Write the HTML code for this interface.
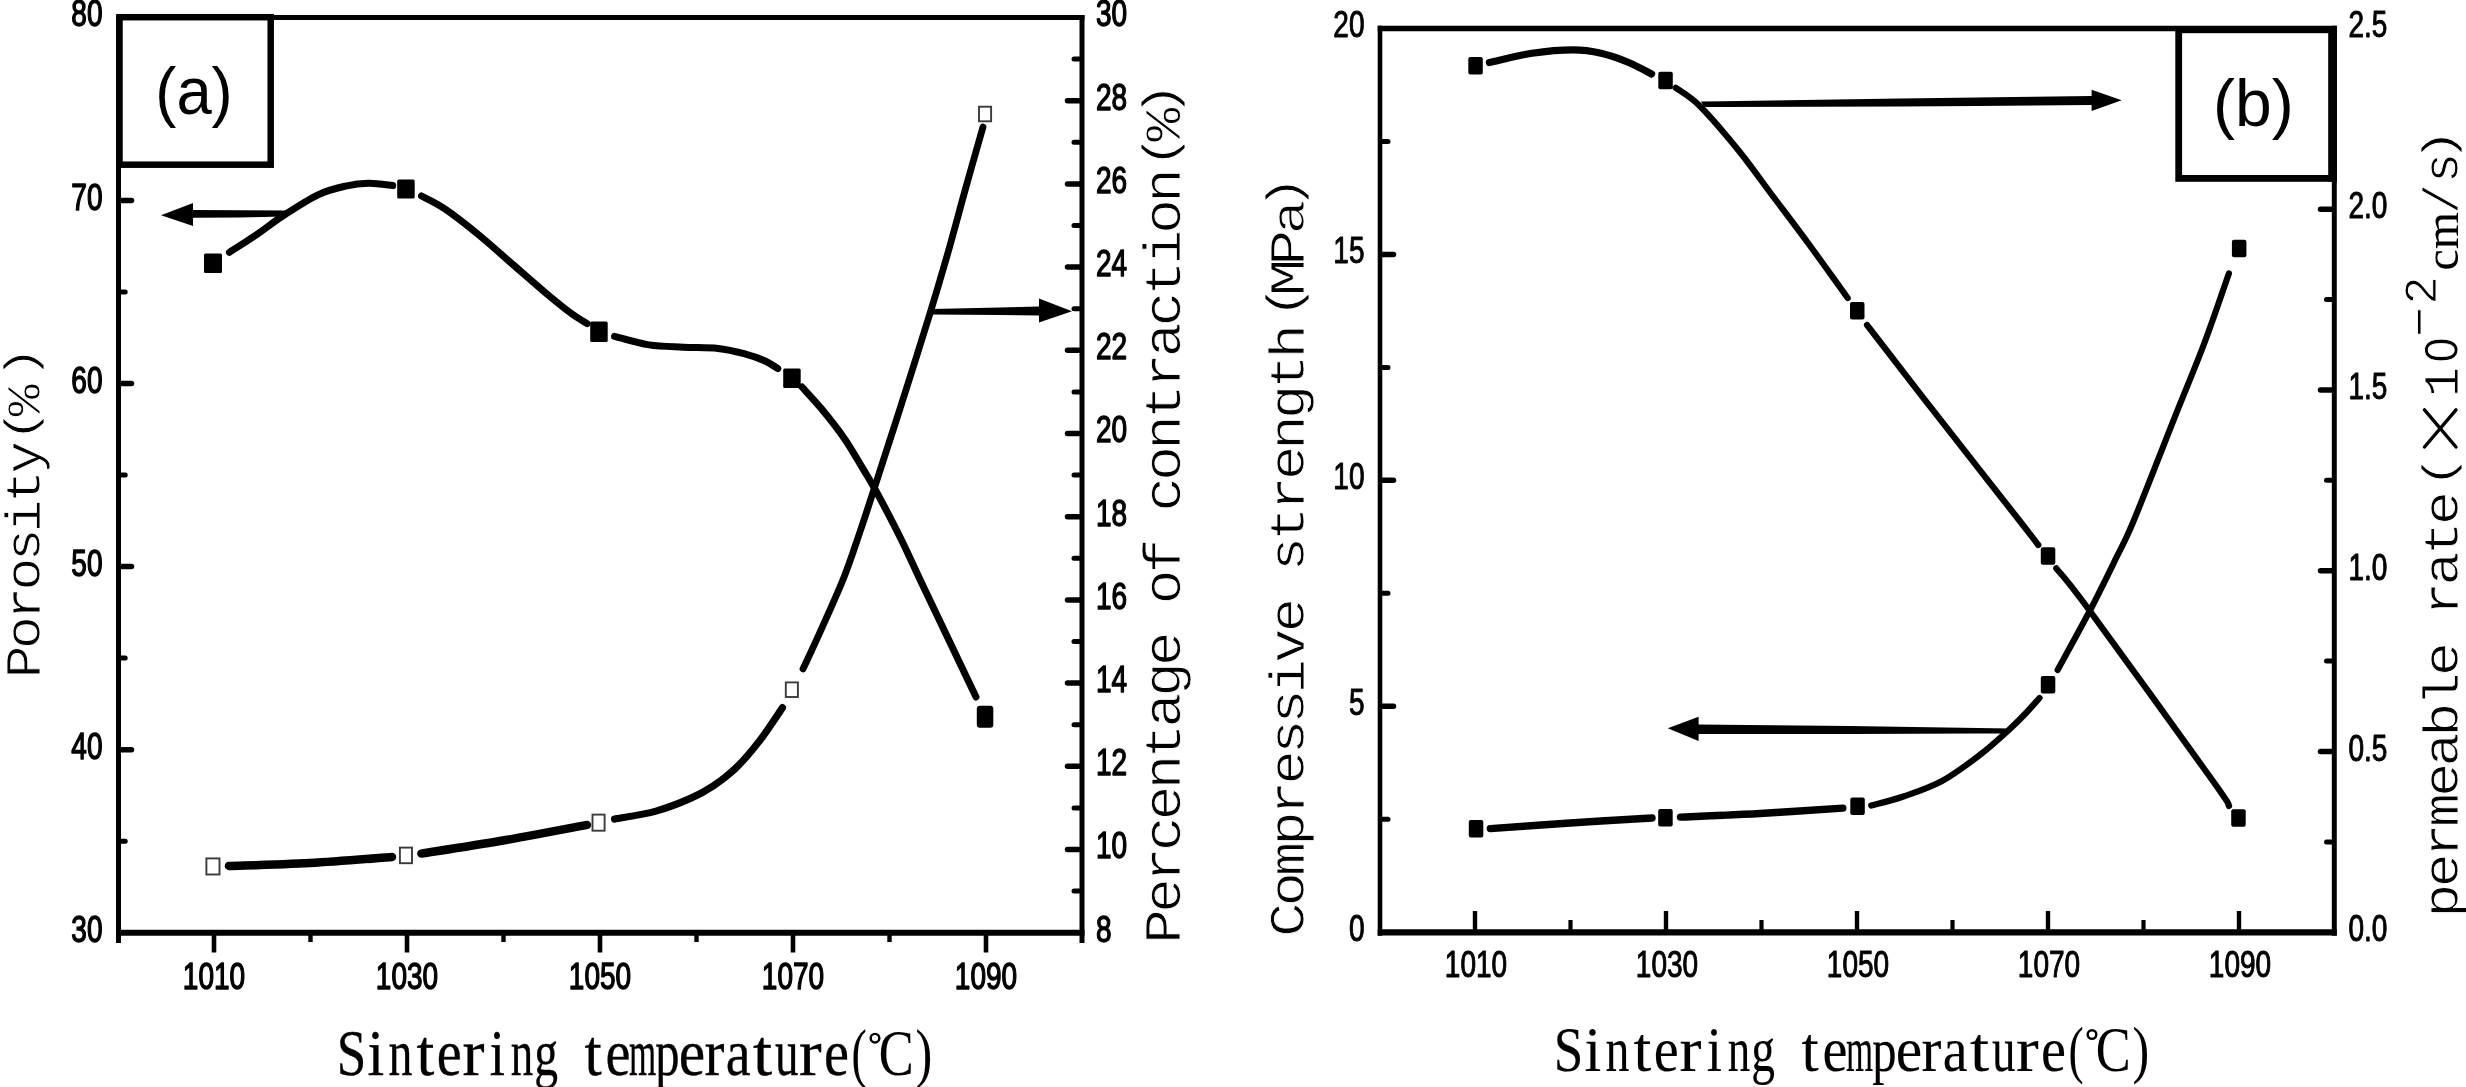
<!DOCTYPE html>
<html><head><meta charset="utf-8"><title>Sintering temperature charts</title>
<style>html,body{margin:0;padding:0;background:#fff;}svg{display:block;}
.tk{font-family:"Liberation Sans",sans-serif;font-size:37.6px;fill:#000;stroke:#000;stroke-linejoin:round;}
.mono{font-family:"Liberation Mono",monospace;fill:#000;stroke:#fff;stroke-width:0.9px;}
.ser{font-family:"Liberation Serif",serif;fill:#000;}
.lab{font-family:"Liberation Sans",sans-serif;font-size:66px;fill:#000;}
</style></head><body>
<svg width="2466" height="1087" viewBox="0 0 2466 1087">
<rect x="0" y="0" width="2466" height="1087" fill="#fff"/>
<defs><filter id="soft" x="0" y="0" width="2466" height="1087" filterUnits="userSpaceOnUse"><feGaussianBlur stdDeviation="0.6"/></filter></defs>
<g filter="url(#soft)">
<!-- panel a frame -->
<line x1="118.5" y1="15.0" x2="118.5" y2="943.0" stroke="#000" stroke-width="5.0" stroke-linecap="butt"/>
<line x1="1082.0" y1="15.0" x2="1082.0" y2="943.0" stroke="#000" stroke-width="5.0" stroke-linecap="butt"/>
<line x1="116.0" y1="17.5" x2="1084.5" y2="17.5" stroke="#000" stroke-width="5.0" stroke-linecap="butt"/>
<line x1="116.0" y1="932.7" x2="1084.5" y2="932.7" stroke="#000" stroke-width="6.0" stroke-linecap="butt"/>
<line x1="120.5" y1="109.0" x2="125.2" y2="109.0" stroke="#000" stroke-width="5.0" stroke-linecap="round"/>
<line x1="120.5" y1="200.5" x2="131.5" y2="200.5" stroke="#000" stroke-width="5.5" stroke-linecap="round"/>
<line x1="120.5" y1="292.1" x2="125.2" y2="292.1" stroke="#000" stroke-width="5.0" stroke-linecap="round"/>
<line x1="120.5" y1="383.6" x2="131.5" y2="383.6" stroke="#000" stroke-width="5.5" stroke-linecap="round"/>
<line x1="120.5" y1="475.1" x2="125.2" y2="475.1" stroke="#000" stroke-width="5.0" stroke-linecap="round"/>
<line x1="120.5" y1="566.6" x2="131.5" y2="566.6" stroke="#000" stroke-width="5.5" stroke-linecap="round"/>
<line x1="120.5" y1="658.1" x2="125.2" y2="658.1" stroke="#000" stroke-width="5.0" stroke-linecap="round"/>
<line x1="120.5" y1="749.7" x2="131.5" y2="749.7" stroke="#000" stroke-width="5.5" stroke-linecap="round"/>
<line x1="120.5" y1="841.2" x2="125.2" y2="841.2" stroke="#000" stroke-width="5.0" stroke-linecap="round"/>
<line x1="1080.0" y1="59.1" x2="1074.0" y2="59.1" stroke="#000" stroke-width="5.0" stroke-linecap="round"/>
<line x1="1080.0" y1="100.7" x2="1067.5" y2="100.7" stroke="#000" stroke-width="5.5" stroke-linecap="round"/>
<line x1="1080.0" y1="142.3" x2="1074.0" y2="142.3" stroke="#000" stroke-width="5.0" stroke-linecap="round"/>
<line x1="1080.0" y1="183.9" x2="1067.5" y2="183.9" stroke="#000" stroke-width="5.5" stroke-linecap="round"/>
<line x1="1080.0" y1="225.5" x2="1074.0" y2="225.5" stroke="#000" stroke-width="5.0" stroke-linecap="round"/>
<line x1="1080.0" y1="267.1" x2="1067.5" y2="267.1" stroke="#000" stroke-width="5.5" stroke-linecap="round"/>
<line x1="1080.0" y1="308.7" x2="1074.0" y2="308.7" stroke="#000" stroke-width="5.0" stroke-linecap="round"/>
<line x1="1080.0" y1="350.3" x2="1067.5" y2="350.3" stroke="#000" stroke-width="5.5" stroke-linecap="round"/>
<line x1="1080.0" y1="391.9" x2="1074.0" y2="391.9" stroke="#000" stroke-width="5.0" stroke-linecap="round"/>
<line x1="1080.0" y1="433.5" x2="1067.5" y2="433.5" stroke="#000" stroke-width="5.5" stroke-linecap="round"/>
<line x1="1080.0" y1="475.1" x2="1074.0" y2="475.1" stroke="#000" stroke-width="5.0" stroke-linecap="round"/>
<line x1="1080.0" y1="516.7" x2="1067.5" y2="516.7" stroke="#000" stroke-width="5.5" stroke-linecap="round"/>
<line x1="1080.0" y1="558.3" x2="1074.0" y2="558.3" stroke="#000" stroke-width="5.0" stroke-linecap="round"/>
<line x1="1080.0" y1="599.9" x2="1067.5" y2="599.9" stroke="#000" stroke-width="5.5" stroke-linecap="round"/>
<line x1="1080.0" y1="641.5" x2="1074.0" y2="641.5" stroke="#000" stroke-width="5.0" stroke-linecap="round"/>
<line x1="1080.0" y1="683.1" x2="1067.5" y2="683.1" stroke="#000" stroke-width="5.5" stroke-linecap="round"/>
<line x1="1080.0" y1="724.7" x2="1074.0" y2="724.7" stroke="#000" stroke-width="5.0" stroke-linecap="round"/>
<line x1="1080.0" y1="766.3" x2="1067.5" y2="766.3" stroke="#000" stroke-width="5.5" stroke-linecap="round"/>
<line x1="1080.0" y1="807.9" x2="1074.0" y2="807.9" stroke="#000" stroke-width="5.0" stroke-linecap="round"/>
<line x1="1080.0" y1="849.5" x2="1067.5" y2="849.5" stroke="#000" stroke-width="5.5" stroke-linecap="round"/>
<line x1="1080.0" y1="891.1" x2="1074.0" y2="891.1" stroke="#000" stroke-width="5.0" stroke-linecap="round"/>
<line x1="214.0" y1="932.7" x2="214.0" y2="952.5" stroke="#000" stroke-width="4.6" stroke-linecap="butt"/>
<line x1="310.5" y1="932.7" x2="310.5" y2="942.0" stroke="#000" stroke-width="4.4" stroke-linecap="butt"/>
<line x1="407.0" y1="932.7" x2="407.0" y2="952.5" stroke="#000" stroke-width="4.6" stroke-linecap="butt"/>
<line x1="503.5" y1="932.7" x2="503.5" y2="942.0" stroke="#000" stroke-width="4.4" stroke-linecap="butt"/>
<line x1="600.0" y1="932.7" x2="600.0" y2="952.5" stroke="#000" stroke-width="4.6" stroke-linecap="butt"/>
<line x1="696.5" y1="932.7" x2="696.5" y2="942.0" stroke="#000" stroke-width="4.4" stroke-linecap="butt"/>
<line x1="793.0" y1="932.7" x2="793.0" y2="952.5" stroke="#000" stroke-width="4.6" stroke-linecap="butt"/>
<line x1="889.5" y1="932.7" x2="889.5" y2="942.0" stroke="#000" stroke-width="4.4" stroke-linecap="butt"/>
<line x1="986.0" y1="932.7" x2="986.0" y2="952.5" stroke="#000" stroke-width="4.6" stroke-linecap="butt"/>
<text transform="translate(102.5,26.4) scale(0.745,1)" text-anchor="end" class="tk" stroke-width="1.4">80</text>
<text transform="translate(102.5,209.5) scale(0.745,1)" text-anchor="end" class="tk" stroke-width="1.4">70</text>
<text transform="translate(102.5,392.5) scale(0.745,1)" text-anchor="end" class="tk" stroke-width="1.4">60</text>
<text transform="translate(102.5,575.6) scale(0.745,1)" text-anchor="end" class="tk" stroke-width="1.4">50</text>
<text transform="translate(102.5,758.6) scale(0.745,1)" text-anchor="end" class="tk" stroke-width="1.4">40</text>
<text transform="translate(102.5,941.6) scale(0.745,1)" text-anchor="end" class="tk" stroke-width="1.4">30</text>
<text transform="translate(1096.0,26.4) scale(0.745,1)" text-anchor="start" class="tk" stroke-width="1.4">30</text>
<text transform="translate(1096.0,109.6) scale(0.745,1)" text-anchor="start" class="tk" stroke-width="1.4">28</text>
<text transform="translate(1096.0,192.8) scale(0.745,1)" text-anchor="start" class="tk" stroke-width="1.4">26</text>
<text transform="translate(1096.0,276.0) scale(0.745,1)" text-anchor="start" class="tk" stroke-width="1.4">24</text>
<text transform="translate(1096.0,359.2) scale(0.745,1)" text-anchor="start" class="tk" stroke-width="1.4">22</text>
<text transform="translate(1096.0,442.4) scale(0.745,1)" text-anchor="start" class="tk" stroke-width="1.4">20</text>
<text transform="translate(1096.0,525.6) scale(0.745,1)" text-anchor="start" class="tk" stroke-width="1.4">18</text>
<text transform="translate(1096.0,608.8) scale(0.745,1)" text-anchor="start" class="tk" stroke-width="1.4">16</text>
<text transform="translate(1096.0,692.0) scale(0.745,1)" text-anchor="start" class="tk" stroke-width="1.4">14</text>
<text transform="translate(1096.0,775.2) scale(0.745,1)" text-anchor="start" class="tk" stroke-width="1.4">12</text>
<text transform="translate(1096.0,858.4) scale(0.745,1)" text-anchor="start" class="tk" stroke-width="1.4">10</text>
<text transform="translate(1096.0,941.6) scale(0.745,1)" text-anchor="start" class="tk" stroke-width="1.4">8</text>
<text transform="translate(214.0,988.9) scale(0.745,1)" text-anchor="middle" class="tk" stroke-width="1.4">1010</text>
<text transform="translate(407.0,988.9) scale(0.745,1)" text-anchor="middle" class="tk" stroke-width="1.4">1030</text>
<text transform="translate(600.0,988.9) scale(0.745,1)" text-anchor="middle" class="tk" stroke-width="1.4">1050</text>
<text transform="translate(793.0,988.9) scale(0.745,1)" text-anchor="middle" class="tk" stroke-width="1.4">1070</text>
<text transform="translate(986.0,988.9) scale(0.745,1)" text-anchor="middle" class="tk" stroke-width="1.4">1090</text>
<rect x="119.5" y="17.2" width="151.2" height="147.5" fill="#fff" stroke="#000" stroke-width="6.5"/>
<text transform="translate(194,113.5) scale(0.96,1)" text-anchor="middle" class="lab">(a)</text>
<path d="M229.4,252.3 C233.8,249.4 246.9,241.2 255.9,235.1 C264.9,229.0 273.1,222.2 283.5,215.5 C293.9,208.8 307.6,199.7 318.0,194.8 C328.4,189.9 337.2,188.0 345.6,186.1 C354.0,184.2 360.8,183.4 368.6,183.3 C376.5,183.2 388.7,185.2 392.7,185.6" fill="none" stroke="#000" stroke-width="7.0" stroke-linecap="round" stroke-linejoin="round"/>
<path d="M421.5,196.0 C425.3,198.1 434.9,202.2 444.5,208.7 C454.1,215.2 467.5,225.7 479.0,235.1 C490.5,244.5 502.0,255.0 513.5,265.0 C525.0,275.0 538.4,286.8 548.0,294.9 C557.6,302.9 564.5,308.5 571.0,313.3 C577.5,318.1 584.4,321.9 587.1,323.6" fill="none" stroke="#000" stroke-width="7.0" stroke-linecap="round" stroke-linejoin="round"/>
<path d="M614.5,336.3 C620.2,337.7 637.5,343.1 649.0,344.9 C660.5,346.7 672.0,346.6 683.5,347.2 C695.0,347.8 707.6,347.4 718.0,348.5 C728.4,349.6 737.9,352.1 745.6,354.1 C753.3,356.1 758.6,358.1 764.0,360.5 C769.4,362.9 775.5,367.2 777.8,368.5" fill="none" stroke="#000" stroke-width="7.0" stroke-linecap="round" stroke-linejoin="round"/>
<path d="M802.0,387.0 C805.2,390.6 814.4,400.2 821.5,408.8 C828.6,417.4 837.6,428.7 844.5,438.7 C851.4,448.7 857.6,459.9 862.9,468.6 C868.1,477.3 869.8,479.6 876.0,491.0 C882.2,502.4 891.8,520.5 900.0,537.0 C908.2,553.5 912.3,563.3 925.0,590.0 C937.7,616.7 967.5,679.2 976.0,697.0" fill="none" stroke="#000" stroke-width="7.0" stroke-linecap="round" stroke-linejoin="round"/>
<rect x="204.0" y="253.6" width="18.0" height="19.5" rx="1.5" fill="#000"/>
<rect x="397.2" y="179.5" width="17.5" height="19.0" rx="1.5" fill="#000"/>
<rect x="590.2" y="321.4" width="17.5" height="20.5" rx="1.5" fill="#000"/>
<rect x="783.2" y="368.6" width="17.5" height="19.5" rx="1.5" fill="#000"/>
<rect x="976.8" y="705.8" width="16.5" height="22.0" rx="3.0" fill="#000"/>
<path d="M229.0,866.0 C242.5,865.5 282.8,864.5 310.0,863.0 C337.2,861.5 378.3,858.0 392.0,857.0" fill="none" stroke="#000" stroke-width="8.5" stroke-linecap="round" stroke-linejoin="round"/>
<path d="M421.4,853.6 C434.5,851.5 472.4,845.8 500.0,841.0 C527.6,836.2 572.5,827.6 587.0,824.9" fill="none" stroke="#000" stroke-width="8.5" stroke-linecap="round" stroke-linejoin="round"/>
<path d="M614.6,819.1 C621.5,817.8 643.4,814.6 656.0,811.1 C668.6,807.6 680.9,802.6 690.5,798.4 C700.1,794.2 705.8,791.0 713.5,785.8 C721.2,780.6 728.8,774.9 736.5,767.4 C744.2,759.9 751.8,750.9 759.5,740.9 C767.2,730.9 778.7,713.1 782.5,707.6" fill="none" stroke="#000" stroke-width="7.2" stroke-linecap="round" stroke-linejoin="round"/>
<path d="M803.0,669.0 C806.1,662.3 814.6,644.3 821.5,628.8 C828.4,613.3 838.0,592.4 844.5,575.9 C851.0,559.4 855.6,544.6 860.6,530.0 C865.6,515.4 867.6,509.0 874.4,488.0 C881.2,467.0 892.3,432.8 901.5,404.0 C910.7,375.2 921.9,339.7 929.5,315.0 C937.1,290.3 940.9,277.3 947.0,256.0 C953.1,234.7 960.0,208.5 966.0,187.0 C972.0,165.5 980.2,137.0 983.0,127.0" fill="none" stroke="#000" stroke-width="6.8" stroke-linecap="round" stroke-linejoin="round"/>
<rect x="206.4" y="858.4" width="13.1" height="16.1" fill="#fff" stroke="#3a3a3a" stroke-width="1.9"/>
<rect x="399.9" y="847.6" width="12.1" height="15.6" fill="#fff" stroke="#3a3a3a" stroke-width="1.9"/>
<rect x="592.5" y="814.6" width="12.1" height="16.1" fill="#fff" stroke="#3a3a3a" stroke-width="1.9"/>
<rect x="785.8" y="682.4" width="12.1" height="14.6" fill="#fff" stroke="#3a3a3a" stroke-width="1.9"/>
<rect x="979.0" y="106.7" width="12.1" height="14.6" fill="#fff" stroke="#3a3a3a" stroke-width="1.9"/>
<polygon points="161.0,215.3 193.0,203.0 193.0,210.0 240.0,210.3 292.0,210.5 284.0,216.5 240.0,217.5 193.0,217.8 193.0,226.0" fill="#000"/>
<polygon points="1072.0,311.3 1039.0,298.5 1039.0,306.5 1000.0,307.5 931.0,309.0 929.0,314.5 1000.0,315.0 1039.0,315.5 1039.0,322.5" fill="#000"/>
<text transform="translate(40.3,678.2) rotate(-90) scale(1,0.911)" class="mono" font-size="54.54" letter-spacing="-3.51">Porosity</text>
<text transform="translate(35.3,425.5) rotate(-90) scale(1.150,0.900)" text-anchor="middle" class="mono" font-size="48.70">(</text>
<text transform="translate(40.3,400.5) rotate(-90) scale(1.120,1.000)" text-anchor="middle" class="mono" font-size="48.70">%</text>
<text transform="translate(35.3,362.6) rotate(-90) scale(1.150,0.900)" text-anchor="middle" class="mono" font-size="48.70">)</text>
<text transform="translate(1180.4,943.7) rotate(-90) scale(1,0.893)" class="mono" font-size="57.62" letter-spacing="-3.70">Percentage of contraction</text>
<text transform="translate(1175.4,151.0) rotate(-90) scale(1.150,0.900)" text-anchor="middle" class="mono" font-size="51.45">(</text>
<text transform="translate(1180.4,124.7) rotate(-90) scale(1.120,1.000)" text-anchor="middle" class="mono" font-size="51.45">%</text>
<text transform="translate(1175.4,99.4) rotate(-90) scale(1.150,0.900)" text-anchor="middle" class="mono" font-size="51.45">)</text>
<text transform="translate(336.8,1075.0) scale(0.817,1)" class="ser" font-size="65.0" stroke="#000" stroke-width="0.35">S</text>
<text transform="translate(367.6,1075.0) scale(0.925,1)" class="ser" font-size="65.0" stroke="#000" stroke-width="0.35">i</text>
<text transform="translate(388.6,1075.0) scale(0.736,1)" class="ser" font-size="65.0" stroke="#000" stroke-width="0.35">n</text>
<text transform="translate(416.4,1075.0) scale(0.986,1)" class="ser" font-size="65.0" stroke="#000" stroke-width="0.35">t</text>
<text transform="translate(436.8,1075.0) scale(0.865,1)" class="ser" font-size="65.0" stroke="#000" stroke-width="0.35">e</text>
<text transform="translate(462.4,1075.0) scale(1.017,1)" class="ser" font-size="65.0" stroke="#000" stroke-width="0.35">r</text>
<text transform="translate(489.8,1075.0) scale(0.841,1)" class="ser" font-size="65.0" stroke="#000" stroke-width="0.35">i</text>
<text transform="translate(510.7,1075.0) scale(0.689,1)" class="ser" font-size="65.0" stroke="#000" stroke-width="0.35">n</text>
<text transform="translate(534.3,1075.0) scale(0.731,1)" class="ser" font-size="65.0" stroke="#000" stroke-width="0.35">g</text>
<text transform="translate(584.4,1075.0) scale(0.951,1)" class="ser" font-size="65.0" stroke="#000" stroke-width="0.35">t</text>
<text transform="translate(605.5,1075.0) scale(0.865,1)" class="ser" font-size="65.0" stroke="#000" stroke-width="0.35">e</text>
<text transform="translate(628.9,1075.0) scale(0.538,1)" class="ser" font-size="65.0" stroke="#000" stroke-width="0.35">m</text>
<text transform="translate(655.2,1075.0) scale(0.747,1)" class="ser" font-size="65.0" stroke="#000" stroke-width="0.35">p</text>
<text transform="translate(678.7,1075.0) scale(0.915,1)" class="ser" font-size="65.0" stroke="#000" stroke-width="0.35">e</text>
<text transform="translate(704.4,1075.0) scale(0.920,1)" class="ser" font-size="65.0" stroke="#000" stroke-width="0.35">r</text>
<text transform="translate(725.7,1075.0) scale(0.861,1)" class="ser" font-size="65.0" stroke="#000" stroke-width="0.35">a</text>
<text transform="translate(753.0,1075.0) scale(1.062,1)" class="ser" font-size="65.0" stroke="#000" stroke-width="0.35">t</text>
<text transform="translate(775.1,1075.0) scale(0.724,1)" class="ser" font-size="65.0" stroke="#000" stroke-width="0.35">u</text>
<text transform="translate(799.0,1075.0) scale(1.047,1)" class="ser" font-size="65.0" stroke="#000" stroke-width="0.35">r</text>
<text transform="translate(824.1,1075.0) scale(0.865,1)" class="ser" font-size="65.0" stroke="#000" stroke-width="0.35">e</text>
<text transform="translate(851.6,1075.0) scale(0.701,1)" class="ser" font-size="65.0" stroke="#000" stroke-width="0.12">(</text>
<text transform="translate(878.7,1075.0) scale(0.806,1)" class="ser" font-size="65.0" stroke="#000" stroke-width="0.12">C</text>
<text transform="translate(915.6,1075.0) scale(0.773,1)" class="ser" font-size="65.0" stroke="#000" stroke-width="0.12">)</text>
<circle cx="875.0" cy="1038.2" r="4.3" fill="none" stroke="#000" stroke-width="2.4"/>
<!-- panel b frame -->
<line x1="1380.0" y1="25.7" x2="1380.0" y2="935.8" stroke="#000" stroke-width="4.6" stroke-linecap="butt"/>
<line x1="2334.3" y1="25.7" x2="2334.3" y2="935.8" stroke="#000" stroke-width="5.0" stroke-linecap="butt"/>
<line x1="1377.7" y1="28.4" x2="2336.8" y2="28.4" stroke="#000" stroke-width="5.5" stroke-linecap="butt"/>
<line x1="1377.7" y1="932.3" x2="2336.8" y2="932.3" stroke="#000" stroke-width="6.2" stroke-linecap="butt"/>
<line x1="1382.0" y1="141.4" x2="1388.0" y2="141.4" stroke="#000" stroke-width="5.0" stroke-linecap="round"/>
<line x1="1382.0" y1="254.4" x2="1393.5" y2="254.4" stroke="#000" stroke-width="5.5" stroke-linecap="round"/>
<line x1="1382.0" y1="367.4" x2="1388.0" y2="367.4" stroke="#000" stroke-width="5.0" stroke-linecap="round"/>
<line x1="1382.0" y1="480.3" x2="1393.5" y2="480.3" stroke="#000" stroke-width="5.5" stroke-linecap="round"/>
<line x1="1382.0" y1="593.3" x2="1388.0" y2="593.3" stroke="#000" stroke-width="5.0" stroke-linecap="round"/>
<line x1="1382.0" y1="706.3" x2="1393.5" y2="706.3" stroke="#000" stroke-width="5.5" stroke-linecap="round"/>
<line x1="1382.0" y1="819.3" x2="1388.0" y2="819.3" stroke="#000" stroke-width="5.0" stroke-linecap="round"/>
<line x1="2332.3" y1="118.8" x2="2326.5" y2="118.8" stroke="#000" stroke-width="5.0" stroke-linecap="round"/>
<line x1="2332.3" y1="209.2" x2="2320.5" y2="209.2" stroke="#000" stroke-width="5.5" stroke-linecap="round"/>
<line x1="2332.3" y1="299.6" x2="2326.5" y2="299.6" stroke="#000" stroke-width="5.0" stroke-linecap="round"/>
<line x1="2332.3" y1="390.0" x2="2320.5" y2="390.0" stroke="#000" stroke-width="5.5" stroke-linecap="round"/>
<line x1="2332.3" y1="480.3" x2="2326.5" y2="480.3" stroke="#000" stroke-width="5.0" stroke-linecap="round"/>
<line x1="2332.3" y1="570.7" x2="2320.5" y2="570.7" stroke="#000" stroke-width="5.5" stroke-linecap="round"/>
<line x1="2332.3" y1="661.1" x2="2326.5" y2="661.1" stroke="#000" stroke-width="5.0" stroke-linecap="round"/>
<line x1="2332.3" y1="751.5" x2="2320.5" y2="751.5" stroke="#000" stroke-width="5.5" stroke-linecap="round"/>
<line x1="2332.3" y1="841.9" x2="2326.5" y2="841.9" stroke="#000" stroke-width="5.0" stroke-linecap="round"/>
<line x1="1475.0" y1="932.3" x2="1475.0" y2="911.0" stroke="#000" stroke-width="4.4" stroke-linecap="butt"/>
<line x1="1570.5" y1="932.3" x2="1570.5" y2="920.0" stroke="#000" stroke-width="4.2" stroke-linecap="butt"/>
<line x1="1666.0" y1="932.3" x2="1666.0" y2="911.0" stroke="#000" stroke-width="4.4" stroke-linecap="butt"/>
<line x1="1761.5" y1="932.3" x2="1761.5" y2="920.0" stroke="#000" stroke-width="4.2" stroke-linecap="butt"/>
<line x1="1857.0" y1="932.3" x2="1857.0" y2="911.0" stroke="#000" stroke-width="4.4" stroke-linecap="butt"/>
<line x1="1952.5" y1="932.3" x2="1952.5" y2="920.0" stroke="#000" stroke-width="4.2" stroke-linecap="butt"/>
<line x1="2048.0" y1="932.3" x2="2048.0" y2="911.0" stroke="#000" stroke-width="4.4" stroke-linecap="butt"/>
<line x1="2143.5" y1="932.3" x2="2143.5" y2="920.0" stroke="#000" stroke-width="4.2" stroke-linecap="butt"/>
<line x1="2239.0" y1="932.3" x2="2239.0" y2="911.0" stroke="#000" stroke-width="4.4" stroke-linecap="butt"/>
<text transform="translate(1364.5,37.3) scale(0.745,1)" text-anchor="end" class="tk" stroke-width="1.0">20</text>
<text transform="translate(1364.5,263.3) scale(0.745,1)" text-anchor="end" class="tk" stroke-width="1.0">15</text>
<text transform="translate(1364.5,489.3) scale(0.745,1)" text-anchor="end" class="tk" stroke-width="1.0">10</text>
<text transform="translate(1364.5,715.3) scale(0.745,1)" text-anchor="end" class="tk" stroke-width="1.0">5</text>
<text transform="translate(1364.5,941.2) scale(0.745,1)" text-anchor="end" class="tk" stroke-width="1.0">0</text>
<text transform="translate(2348.5,37.3) scale(0.745,1)" text-anchor="start" class="tk" stroke-width="1.0">2.5</text>
<text transform="translate(2348.5,218.1) scale(0.745,1)" text-anchor="start" class="tk" stroke-width="1.0">2.0</text>
<text transform="translate(2348.5,398.9) scale(0.745,1)" text-anchor="start" class="tk" stroke-width="1.0">1.5</text>
<text transform="translate(2348.5,579.7) scale(0.745,1)" text-anchor="start" class="tk" stroke-width="1.0">1.0</text>
<text transform="translate(2348.5,760.5) scale(0.745,1)" text-anchor="start" class="tk" stroke-width="1.0">0.5</text>
<text transform="translate(2348.5,941.2) scale(0.745,1)" text-anchor="start" class="tk" stroke-width="1.0">0.0</text>
<text transform="translate(1476.0,977.1) scale(0.745,1)" text-anchor="middle" class="tk" stroke-width="1.0">1010</text>
<text transform="translate(1667.0,977.1) scale(0.745,1)" text-anchor="middle" class="tk" stroke-width="1.0">1030</text>
<text transform="translate(1858.0,977.1) scale(0.745,1)" text-anchor="middle" class="tk" stroke-width="1.0">1050</text>
<text transform="translate(2049.0,977.1) scale(0.745,1)" text-anchor="middle" class="tk" stroke-width="1.0">1070</text>
<text transform="translate(2240.0,977.1) scale(0.745,1)" text-anchor="middle" class="tk" stroke-width="1.0">1090</text>
<rect x="2178.7" y="29.8" width="154.7" height="148.6" fill="#fff" stroke="#000" stroke-width="6.8"/>
<line x1="2332.5" y1="26.0" x2="2332.5" y2="181.8" stroke="#000" stroke-width="8.6" stroke-linecap="butt"/>
<text x="2253.3" y="125.5" text-anchor="middle" class="lab">(b)</text>
<path d="M1489.4,62.5 C1496.5,61.0 1518.0,55.4 1532.0,53.3 C1546.0,51.2 1561.9,49.9 1573.4,49.9 C1584.9,49.9 1591.8,51.2 1601.0,53.3 C1610.2,55.4 1620.2,59.0 1628.6,62.5 C1637.0,66.0 1647.8,72.1 1651.6,74.0" fill="none" stroke="#000" stroke-width="7.2" stroke-linecap="round" stroke-linejoin="round"/>
<path d="M1675.7,87.8 C1679.8,90.9 1689.5,95.7 1700.0,106.2 C1710.5,116.7 1726.8,135.9 1739.0,151.0 C1751.2,166.1 1762.0,181.7 1773.5,197.0 C1785.0,212.3 1795.6,226.2 1808.0,243.0 C1820.4,259.8 1841.1,288.8 1847.7,298.0" fill="none" stroke="#000" stroke-width="6.2" stroke-linecap="round" stroke-linejoin="round"/>
<path d="M1867.0,325.0 C1877.3,338.3 1903.5,372.4 1928.8,404.9 C1954.1,437.4 2000.8,496.6 2019.0,520.0 C2037.2,543.4 2035.1,540.8 2038.3,545.0" fill="none" stroke="#000" stroke-width="6.2" stroke-linecap="round" stroke-linejoin="round"/>
<path d="M2056.3,568.3 C2061.9,575.4 2063.8,575.5 2089.8,610.8 C2115.8,646.1 2189.0,747.5 2212.2,780.0 C2235.4,812.5 2226.2,801.7 2229.0,806.0" fill="none" stroke="#000" stroke-width="6.2" stroke-linecap="round" stroke-linejoin="round"/>
<path d="M1490.3,828.6 C1503.6,827.7 1543.0,824.8 1570.0,823.0 C1597.0,821.2 1638.3,818.8 1652.0,818.0" fill="none" stroke="#000" stroke-width="7.4" stroke-linecap="round" stroke-linejoin="round"/>
<path d="M1680.5,817.1 C1693.8,816.5 1733.0,815.0 1760.0,813.5 C1787.0,812.0 1829.0,809.0 1842.8,808.1" fill="none" stroke="#000" stroke-width="7.4" stroke-linecap="round" stroke-linejoin="round"/>
<path d="M1871.2,805.5 C1876.6,804.0 1891.6,800.6 1903.4,796.5 C1915.2,792.4 1929.2,788.0 1942.0,781.0 C1954.8,774.0 1969.4,762.9 1980.4,754.5 C1991.4,746.1 2000.4,737.6 2008.0,730.7 C2015.6,723.8 2020.8,718.5 2026.0,713.0 C2031.2,707.5 2037.2,700.5 2039.5,698.0" fill="none" stroke="#000" stroke-width="6.2" stroke-linecap="round" stroke-linejoin="round"/>
<path d="M2057.6,670.0 C2063.0,660.1 2079.9,629.7 2089.8,610.8 C2099.7,591.9 2109.4,571.8 2116.8,556.7 C2124.2,541.6 2124.6,542.7 2134.0,520.0 C2143.4,497.3 2161.8,449.8 2173.5,420.3 C2185.2,390.8 2195.2,367.5 2204.4,343.0 C2213.6,318.5 2224.8,285.1 2228.9,273.5" fill="none" stroke="#000" stroke-width="6.2" stroke-linecap="round" stroke-linejoin="round"/>
<rect x="1468.3" y="57.0" width="14.5" height="17.5" rx="2.0" fill="#000"/>
<rect x="1658.3" y="71.7" width="14.5" height="17.5" rx="2.0" fill="#000"/>
<rect x="1850.0" y="302.1" width="14.5" height="17.5" rx="2.0" fill="#000"/>
<rect x="2040.8" y="547.2" width="14.5" height="17.5" rx="2.0" fill="#000"/>
<rect x="2231.2" y="809.2" width="14.5" height="17.5" rx="2.0" fill="#000"/>
<rect x="1468.8" y="819.9" width="14.5" height="17.5" rx="2.0" fill="#000"/>
<rect x="1658.2" y="809.0" width="14.5" height="17.5" rx="2.0" fill="#000"/>
<rect x="1850.3" y="797.5" width="14.5" height="17.5" rx="2.0" fill="#000"/>
<rect x="2040.8" y="676.0" width="14.5" height="17.5" rx="2.0" fill="#000"/>
<rect x="2231.9" y="239.8" width="14.5" height="17.5" rx="2.0" fill="#000"/>
<polygon points="2121.7,100.3 2091.6,89.8 2091.6,96.0 1900.0,98.5 1701.0,101.5 1704.0,107.0 1900.0,106.5 2091.6,105.0 2091.6,111.0" fill="#000"/>
<polygon points="1667.7,728.3 1698.6,716.7 1698.6,724.5 1850.0,726.0 2012.0,728.5 2006.0,733.5 1850.0,734.0 1698.6,734.0 1698.6,741.1" fill="#000"/>
<text transform="translate(1303.5,936.8) rotate(-90) scale(1,0.893)" class="mono" font-size="56.84" letter-spacing="-3.65">Compressive strength</text>
<text transform="translate(1298.5,301.6) rotate(-90) scale(1.150,0.900)" text-anchor="middle" class="mono" font-size="50.75">(</text>
<text transform="translate(1303.5,277.5) rotate(-90) scale(1.250,0.970)" text-anchor="middle" class="mono" font-size="50.75">M</text>
<text transform="translate(1303.5,247.9) rotate(-90) scale(1.180,0.970)" text-anchor="middle" class="mono" font-size="50.75">P</text>
<text transform="translate(1303.5,217.0) rotate(-90) scale(1.130,0.900)" text-anchor="middle" class="mono" font-size="50.75">a</text>
<text transform="translate(1298.5,192.7) rotate(-90) scale(1.150,0.900)" text-anchor="middle" class="mono" font-size="50.75">)</text>
<text transform="translate(2457.6,917.5) rotate(-90) scale(1,0.893)" class="mono" font-size="56.34" letter-spacing="-3.62">permeable rate</text>
<text transform="translate(2452.6,471.4) rotate(-90) scale(1.150,0.900)" text-anchor="middle" class="mono" font-size="50.30">(</text>
<line x1="2424.5" y1="409.8" x2="2456.0" y2="447.0" stroke="#000" stroke-width="3.4" stroke-linecap="round"/>
<line x1="2456.0" y1="409.8" x2="2424.5" y2="447.0" stroke="#000" stroke-width="3.4" stroke-linecap="round"/>
<text transform="translate(2457.6,382.0) rotate(-90)" text-anchor="middle" class="mono" font-size="50.3">1</text>
<text transform="translate(2457.6,350) rotate(-90) scale(0.86,1)" text-anchor="middle" class="mono" font-size="50.3">O</text>
<text transform="translate(2436.0,322.0) rotate(-90)" text-anchor="middle" class="mono" font-size="50.3">−</text>
<text transform="translate(2436.0,290.5) rotate(-90)" text-anchor="middle" class="mono" font-size="47.0">2</text>
<text transform="translate(2457.6,270.5) rotate(-90)" class="ser" font-size="48">cm</text>
<text transform="translate(2457.6,199.0) rotate(-90)" text-anchor="middle" class="mono" font-size="50.3">/</text>
<text transform="translate(2457.6,168.0) rotate(-90)" text-anchor="middle" class="mono" font-size="50.3">s</text>
<text transform="translate(2452.6,145.4) rotate(-90) scale(1.150,0.900)" text-anchor="middle" class="mono" font-size="50.30">)</text>
<text transform="translate(1553.8,1071.3) scale(0.837,1)" class="ser" font-size="63.5" stroke="#000" stroke-width="0.15">S</text>
<text transform="translate(1584.6,1071.3) scale(0.947,1)" class="ser" font-size="63.5" stroke="#000" stroke-width="0.15">i</text>
<text transform="translate(1605.6,1071.3) scale(0.753,1)" class="ser" font-size="63.5" stroke="#000" stroke-width="0.15">n</text>
<text transform="translate(1633.4,1071.3) scale(1.009,1)" class="ser" font-size="63.5" stroke="#000" stroke-width="0.15">t</text>
<text transform="translate(1653.8,1071.3) scale(0.885,1)" class="ser" font-size="63.5" stroke="#000" stroke-width="0.15">e</text>
<text transform="translate(1679.4,1071.3) scale(1.041,1)" class="ser" font-size="63.5" stroke="#000" stroke-width="0.15">r</text>
<text transform="translate(1706.8,1071.3) scale(0.861,1)" class="ser" font-size="63.5" stroke="#000" stroke-width="0.15">i</text>
<text transform="translate(1727.7,1071.3) scale(0.706,1)" class="ser" font-size="63.5" stroke="#000" stroke-width="0.15">n</text>
<text transform="translate(1751.3,1071.3) scale(0.748,1)" class="ser" font-size="63.5" stroke="#000" stroke-width="0.15">g</text>
<text transform="translate(1801.4,1071.3) scale(0.973,1)" class="ser" font-size="63.5" stroke="#000" stroke-width="0.15">t</text>
<text transform="translate(1822.5,1071.3) scale(0.885,1)" class="ser" font-size="63.5" stroke="#000" stroke-width="0.15">e</text>
<text transform="translate(1845.9,1071.3) scale(0.550,1)" class="ser" font-size="63.5" stroke="#000" stroke-width="0.15">m</text>
<text transform="translate(1872.2,1071.3) scale(0.765,1)" class="ser" font-size="63.5" stroke="#000" stroke-width="0.15">p</text>
<text transform="translate(1895.7,1071.3) scale(0.936,1)" class="ser" font-size="63.5" stroke="#000" stroke-width="0.15">e</text>
<text transform="translate(1921.4,1071.3) scale(0.942,1)" class="ser" font-size="63.5" stroke="#000" stroke-width="0.15">r</text>
<text transform="translate(1942.7,1071.3) scale(0.881,1)" class="ser" font-size="63.5" stroke="#000" stroke-width="0.15">a</text>
<text transform="translate(1970.0,1071.3) scale(1.087,1)" class="ser" font-size="63.5" stroke="#000" stroke-width="0.15">t</text>
<text transform="translate(1992.1,1071.3) scale(0.741,1)" class="ser" font-size="63.5" stroke="#000" stroke-width="0.15">u</text>
<text transform="translate(2016.0,1071.3) scale(1.072,1)" class="ser" font-size="63.5" stroke="#000" stroke-width="0.15">r</text>
<text transform="translate(2041.1,1071.3) scale(0.885,1)" class="ser" font-size="63.5" stroke="#000" stroke-width="0.15">e</text>
<text transform="translate(2068.6,1071.3) scale(0.717,1)" class="ser" font-size="63.5" stroke="#000" stroke-width="0.05">(</text>
<text transform="translate(2095.7,1071.3) scale(0.825,1)" class="ser" font-size="63.5" stroke="#000" stroke-width="0.05">C</text>
<text transform="translate(2132.6,1071.3) scale(0.791,1)" class="ser" font-size="63.5" stroke="#000" stroke-width="0.05">)</text>
<circle cx="2092.0" cy="1034.5" r="4.3" fill="none" stroke="#000" stroke-width="2.4"/>
</g>
</svg></body></html>
